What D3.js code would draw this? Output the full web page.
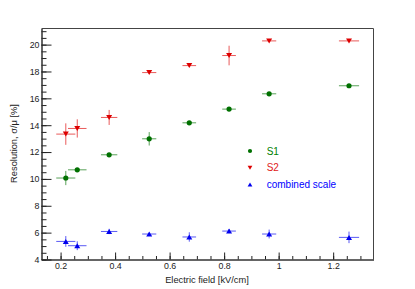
<!DOCTYPE html>
<html>
<head>
<meta charset="utf-8">
<script src="https://d3js.org/d3.v7.min.js"></script>
<style>
  body { margin: 0; background: #fff; }
  text { font-family: "Liberation Sans", Arial, sans-serif; }
</style>
</head>
<body>
<div id="my_dataviz"></div>
<script>
// data
var fields   = [0.221, 0.263, 0.380, 0.527, 0.674, 0.820, 0.967, 1.260];
var fieldErr = [0.035, 0.034, 0.030, 0.026, 0.025, 0.025, 0.026, 0.037];
var s1Res    = [10.03, 10.64, 11.76, 12.95, 14.14, 15.16, 16.30, 16.90];
var s1Err    = [0.53, 0.08, 0.08, 0.50, 0.08, 0.08, 0.08, 0.08];
var s2Res    = [13.30, 13.72, 14.54, 17.88, 18.40, 19.15, 20.24, 20.24];
var s2Err    = [0.80, 0.68, 0.56, 0.08, 0.08, 0.73, 0.08, 0.08];
var combRes  = [5.31, 4.99, 6.05, 5.86, 5.64, 6.08, 5.86, 5.61];
var combErr  = [0.40, 0.33, 0.20, 0.10, 0.35, 0.15, 0.33, 0.43];
var seriesNames = ["S1", "S2", "combined scale"];
var xTicks = [0.2, 0.4, 0.6, 0.8, 1.0, 1.2];
var yTicks = [4, 6, 8, 10, 12, 14, 16, 18, 20];

// set the dimensions and margins of the graph
var margin = {top: 28, right: 42, bottom: 30, left: 41},
    width = 415 - margin.left - margin.right,
    height = 289 - margin.top - margin.bottom;

var svg = d3.select("#my_dataviz")
  .append("svg")
    .attr("width", 415)
    .attr("height", 289)
  .append("g")
    .attr("transform", "translate(" + margin.left + "," + margin.top + ")");

var x = d3.scaleLinear().domain([0.13, 1.348]).range([0, width]);
var y = d3.scaleLinear().domain([4, 21.2]).range([height, 0]);

// frame top / right
svg.append("path")
  .attr("d", "M0.5,0.5H" + (width + 0.5) + "V" + (height + 0.5))
  .attr("fill", "none")
  .attr("stroke", "#444");

// minor ticks
var xMinor = d3.range(0.15, 1.346, 0.05);
var yMinor = d3.range(4, 21.01, 0.5);

var xMinorG = svg.append("g")
  .attr("transform", "translate(0.5," + (height + 0.5) + ")")
  .call(d3.axisBottom(x).tickValues(xMinor).tickSize(-3.5).tickSizeOuter(0).tickFormat(""));
var yMinorG = svg.append("g")
  .attr("transform", "translate(0.5,0.5)")
  .call(d3.axisLeft(y).tickValues(yMinor).tickSize(-5).tickSizeOuter(0).tickFormat(""));

// major ticks + labels
var xAxisG = svg.append("g")
  .attr("transform", "translate(0.5," + (height + 0.5) + ")")
  .call(d3.axisBottom(x).tickValues(xTicks).tickSize(-7).tickSizeOuter(0).tickPadding(3)
    .tickFormat(function(d) { return d3.format("~g")(d); }));
var yAxisG = svg.append("g")
  .attr("transform", "translate(0.5,0.5)")
  .call(d3.axisLeft(y).tickValues(yTicks).tickSize(-10).tickSizeOuter(0).tickPadding(2));

svg.selectAll(".domain").attr("stroke", "#333");
svg.selectAll(".tick line").attr("stroke", "#222");
svg.selectAll(".tick text")
  .style("font-size", "8.8px")
  .attr("fill", "#222");

// axis titles
svg.append("text")
  .attr("x", width / 2)
  .attr("y", height + 24)
  .attr("text-anchor", "middle")
  .style("font-size", "9.3px")
  .attr("fill", "#222")
  .text("Electric field [kV/cm]");

svg.append("text")
  .attr("transform", "translate(" + (16.5 - margin.left) + "," + (height / 2) + ") rotate(-90)")
  .attr("text-anchor", "middle")
  .style("font-size", "9.3px")
  .attr("fill", "#222")
  .text("Resolution, \u03c3/\u03bc [%]");

// series
var series = [
  {name: seriesNames[0], vals: s1Res, errs: s1Err, color: "#007000", text: "#008000", shape: "circle"},
  {name: seriesNames[1], vals: s2Res, errs: s2Err, color: "#dd0000", text: "#e02020", shape: "down"},
  {name: seriesNames[2], vals: combRes, errs: combErr, color: "#0000ee", text: "#0000ff", shape: "up"}
];

function marker(g, shape, color) {
  if (shape == "circle") {
    g.append("circle").attr("r", 2.6).attr("fill", color);
  } else if (shape == "down") {
    g.append("path").attr("d", "M-3,-2.5L3,-2.5L0,2.5Z").attr("fill", color);
  } else {
    g.append("path").attr("d", "M-3,2.5L3,2.5L0,-2.5Z").attr("fill", color);
  }
}

series.forEach(function(s) {
  var pts = fields.map(function(f, i) {
    return {x: f, xe: fieldErr[i], y: s.vals[i], ye: s.errs[i]};
  });
  var g = svg.append("g");
  // x error bars
  g.selectAll("line.xe")
    .data(pts)
    .enter()
    .append("line")
      .attr("x1", function(d) { return x(d.x - d.xe); })
      .attr("x2", function(d) { return x(d.x + d.xe); })
      .attr("y1", function(d) { return y(d.y); })
      .attr("y2", function(d) { return y(d.y); })
      .attr("stroke", s.color)
      .attr("stroke-opacity", 0.65);
  // y error bars
  g.selectAll("line.ye")
    .data(pts)
    .enter()
    .append("line")
      .attr("x1", function(d) { return x(d.x); })
      .attr("x2", function(d) { return x(d.x); })
      .attr("y1", function(d) { return y(d.y - d.ye); })
      .attr("y2", function(d) { return y(d.y + d.ye); })
      .attr("stroke", s.color)
      .attr("stroke-opacity", 0.65);
  // markers
  g.selectAll("g.pt")
    .data(pts)
    .enter()
    .append("g")
      .attr("transform", function(d) { return "translate(" + x(d.x) + "," + y(d.y) + ")"; })
      .each(function() { marker(d3.select(this), s.shape, s.color); });
});

// legend
var legend = svg.append("g")
  .attr("transform", "translate(" + (250 - margin.left) + "," + (151 - margin.top) + ")");
series.forEach(function(s, i) {
  var row = legend.append("g").attr("transform", "translate(0," + (i * 16.7) + ")");
  marker(row.append("g").attr("transform", "scale(0.8)"), s.shape, s.color);
  row.append("text")
    .attr("x", 16.7)
    .attr("y", 3.6)
    .style("font-size", "10px")
    .attr("fill", s.text)
    .text(s.name);
});
</script>
</body>
</html>
